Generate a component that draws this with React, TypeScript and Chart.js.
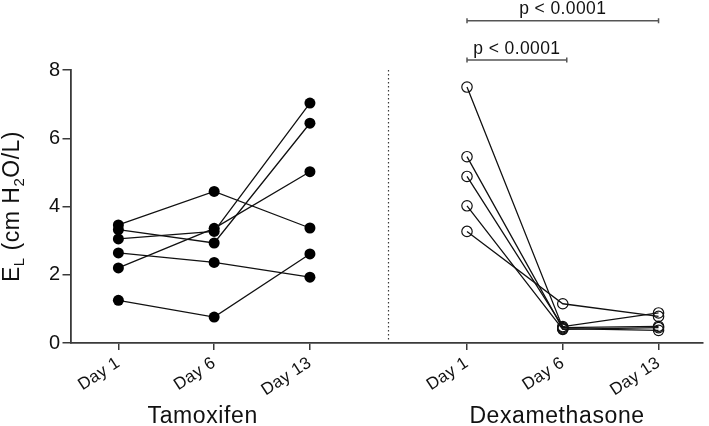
import React, { useEffect, useRef } from 'react';
import { Chart, registerables } from 'chart.js';

Chart.register(...registerables);

// ---- data ----
const dayLabels = ['Day 1', 'Day 6', 'Day 13'];
const tamoxX = [0.5, 1.5, 2.5];
const dexX = [4.14, 5.14, 6.14];
const separatorX = 3.31;
const xMax = 6.6;

const tamoxDay1 = [3.46, 3.32, 3.05, 2.2, 2.64, 1.25];
const tamoxDay6 = [4.44, 2.93, 3.27, 3.36, 2.36, 0.76];
const tamoxDay13 = [3.37, 6.44, 7.03, 5.02, 1.93, 2.61];

const dexDay1 = [7.5, 5.46, 4.88, 4.02, 3.27];
const dexDay6 = [0.45, 0.42, 0.48, 0.4, 1.15];
const dexDay13 = [0.49, 0.37, 0.88, 0.45, 0.78];

const yTicks = [0, 2, 4, 6, 8];
const groupLabels = ['Tamoxifen', 'Dexamethasone'];
const groupLabelX = [1.38, 5.08];
const pLabels = ['p < 0.0001', 'p < 0.0001'];
const bracketFrom = [0, 0];
const bracketTo = [2, 1];
const bracketLevel = [9.44, 8.29];

const FONT = '"Liberation Sans", Arial, sans-serif';
const INK = '#111';
const AXIS = '#3a3a3a';

export default function App() {
  const ref = useRef<HTMLCanvasElement | null>(null);

  useEffect(() => {
    const canvas = ref.current;
    if (!canvas) return;

    const allX = [...tamoxX, ...dexX];
    const allLabels = [...dayLabels, ...dayLabels];

    const datasets: any[] = [];
    tamoxDay1.forEach((_, i) => {
      datasets.push({
        data: [
          { x: tamoxX[0], y: tamoxDay1[i] },
          { x: tamoxX[1], y: tamoxDay6[i] },
          { x: tamoxX[2], y: tamoxDay13[i] },
        ],
        showLine: true,
        borderColor: INK,
        borderWidth: 1.3,
        pointRadius: 5.5,
        pointBackgroundColor: '#000',
        pointBorderColor: '#000',
        pointBorderWidth: 0,
      });
    });
    dexDay1.forEach((_, i) => {
      datasets.push({
        data: [
          { x: dexX[0], y: dexDay1[i] },
          { x: dexX[1], y: dexDay6[i] },
          { x: dexX[2], y: dexDay13[i] },
        ],
        showLine: true,
        borderColor: INK,
        borderWidth: 1.3,
        pointRadius: 5.2,
        pointBackgroundColor: 'rgba(255,255,255,0)',
        pointBorderColor: INK,
        pointBorderWidth: 1.2,
      });
    });

    const overlay = {
      id: 'overlay',
      beforeDraw(chart: any) {
        chart.ctx.letterSpacing = '0.3px';
      },
      afterDraw(chart: any) {
        const { ctx, chartArea, scales } = chart;
        const x = scales.x;
        const y = scales.y;
        ctx.save();
        // separator
        ctx.strokeStyle = AXIS;
        ctx.lineWidth = 1.2;
        ctx.setLineDash([1.5, 2.5]);
        const sx = Math.round(x.getPixelForValue(separatorX)) + 0.5;
        ctx.beginPath();
        ctx.moveTo(sx, chartArea.top);
        ctx.lineTo(sx, chartArea.bottom);
        ctx.stroke();
        ctx.setLineDash([]);

        // brackets
        ctx.strokeStyle = '#555';
        ctx.lineWidth = 1.5;
        ctx.fillStyle = INK;
        ctx.font = `17.5px ${FONT}`;
        ctx.letterSpacing = '0.4px';
        ctx.textAlign = 'center';
        ctx.textBaseline = 'alphabetic';
        bracketFrom.forEach((f, i) => {
          const x1 = x.getPixelForValue(dexX[f]);
          const x2 = x.getPixelForValue(dexX[bracketTo[i]]) + (i === 1 ? 4 : 0);
          const by = y.getPixelForValue(bracketLevel[i]);
          ctx.beginPath();
          ctx.moveTo(x1, by);
          ctx.lineTo(x2, by);
          ctx.moveTo(x1, by - 2.5);
          ctx.lineTo(x1, by + 2.5);
          ctx.moveTo(x2, by - 2.5);
          ctx.lineTo(x2, by + 2.5);
          ctx.stroke();
          ctx.fillText(pLabels[i], (x1 + x2) / 2, by - 6.5);
        });

        // group labels
        ctx.font = `23px ${FONT}`;
        ctx.letterSpacing = '0.6px';
        groupLabels.forEach((g, i) => {
          ctx.fillText(g, x.getPixelForValue(groupLabelX[i]), 423);
        });

        // y title with subscripts
        const segs = [
          { t: 'E', sub: false },
          { t: 'L', sub: true },
          { t: ' (cm H', sub: false },
          { t: '2', sub: true },
          { t: 'O/L)', sub: false },
        ];
        ctx.letterSpacing = '0.5px';
        const mainFont = `23px ${FONT}`;
        const subFont = `15px ${FONT}`;
        let total = 0;
        const widths = segs.map((s) => {
          ctx.font = s.sub ? subFont : mainFont;
          const w = ctx.measureText(s.t).width;
          total += w;
          return w;
        });
        const cy = (chartArea.top + chartArea.bottom) / 2;
        ctx.translate(19, cy);
        ctx.rotate(-Math.PI / 2);
        ctx.textAlign = 'left';
        let cx = -total / 2;
        segs.forEach((s, i) => {
          ctx.font = s.sub ? subFont : mainFont;
          ctx.fillText(s.t, cx, s.sub ? 5 : 0);
          cx += widths[i];
        });
        ctx.restore();
        ctx.letterSpacing = '0px';
      },
    };

    const chart = new Chart(canvas, {
      type: 'scatter',
      data: { datasets },
      options: {
        animation: false,
        responsive: false,
        events: [],
        layout: { padding: { top: 70, left: 0, right: 6, bottom: 0 } },
        plugins: { legend: { display: false }, tooltip: { enabled: false } },
        elements: { line: { tension: 0 } },
        scales: {
          x: {
            type: 'linear',
            min: 0,
            max: xMax,
            afterBuildTicks: (s: any) => {
              s.ticks = allX.map((v) => ({ value: v }));
            },
            afterFit: (s: any) => {
              s.height = 83;
            },
            ticks: {
              autoSkip: false,
              minRotation: 33,
              maxRotation: 33,
              padding: 3,
              color: INK,
              font: { family: FONT, size: 17 },
              callback: (_v: any, i: number) => allLabels[i],
            },
            grid: {
              drawOnChartArea: false,
              drawTicks: true,
              tickLength: 7,
              color: AXIS,
              lineWidth: 1.5,
            },
            border: { color: AXIS, width: 1.8 },
          },
          y: {
            type: 'linear',
            min: 0,
            max: 8,
            afterBuildTicks: (s: any) => {
              s.ticks = yTicks.map((v) => ({ value: v }));
            },
            afterFit: (s: any) => {
              s.width = 70.5;
            },
            ticks: {
              padding: 2,
              color: INK,
              font: { family: FONT, size: 20 },
            },
            grid: {
              drawOnChartArea: false,
              drawTicks: true,
              tickLength: 8,
              color: AXIS,
              lineWidth: 1.5,
            },
            border: { color: AXIS, width: 1.8 },
          },
        },
      },
      plugins: [overlay],
    });

    return () => chart.destroy();
  }, []);

  return (
    <div style={{ position: 'absolute', left: 0, top: 0, width: 709, height: 426, background: '#fff' }}>
      <canvas ref={ref} width={709} height={426} style={{ display: 'block' }} />
    </div>
  );
}
